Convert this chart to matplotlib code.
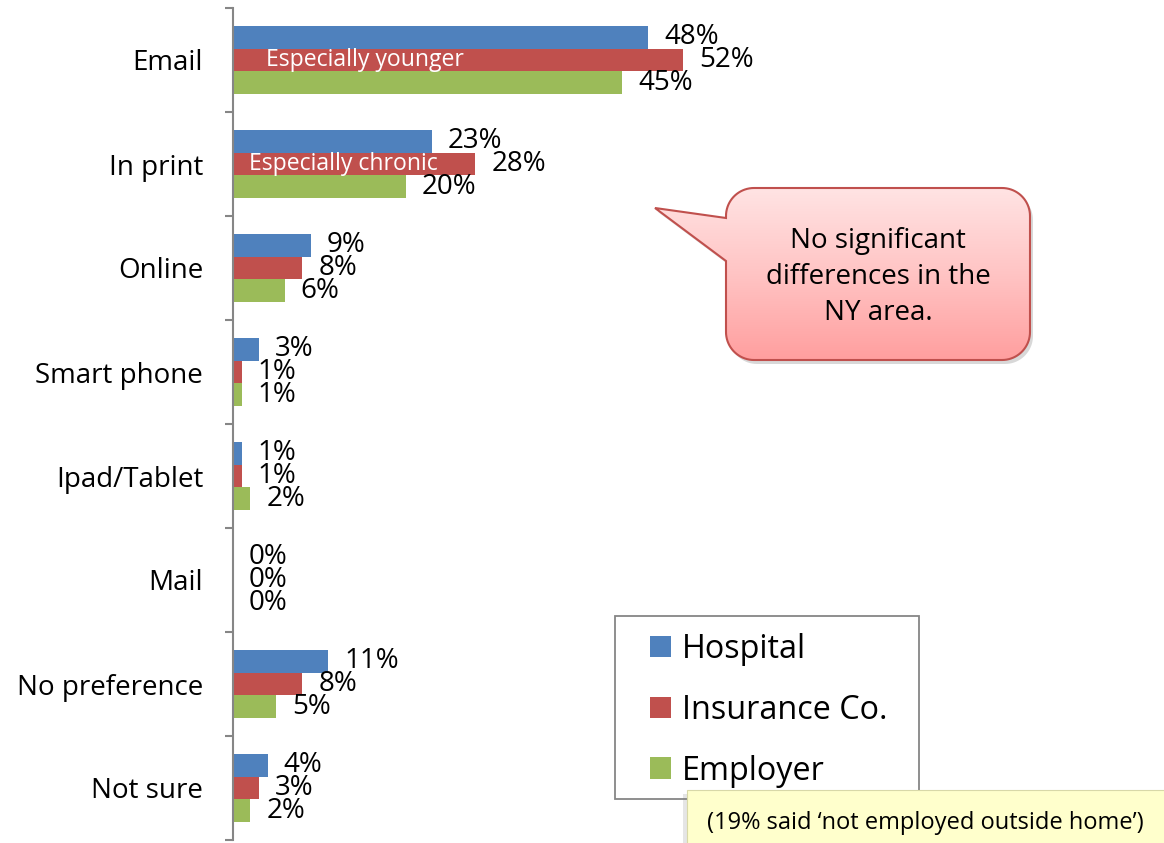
import numpy as np
import matplotlib.pyplot as plt
from matplotlib.patches import Rectangle, PathPatch
from matplotlib.path import Path
from matplotlib.colors import LinearSegmentedColormap

plt.rcParams['font.family'] = ['Open Sans', 'DejaVu Sans']

# данные
categories = ['Email', 'In print', 'Online', 'Smart phone', 'Ipad/Tablet',
              'Mail', 'No preference', 'Not sure']
hospital = [48, 23, 9, 3, 1, 0, 11, 4]
insurance = [52, 28, 8, 1, 1, 0, 8, 3]
employer = [45, 20, 6, 1, 2, 0, 5, 2]
series_names = ['Hospital', 'Insurance Co.', 'Employer']
colors = ['#4F81BD', '#C0504D', '#9BBB59']
notes = {0: 'Especially younger', 1: 'Especially chronic'}
note_offsets = {0: 24, 1: 11.5}

W, H = 1164, 843
fig = plt.figure(figsize=(W / 100, H / 100), dpi=100)
ax = fig.add_axes([233 / W, 3 / H, (W - 233) / W, 832 / H])

y = np.arange(len(categories))
bh = 0.221
bars_all = []
for k, (vals, c) in enumerate(zip([hospital, insurance, employer], colors)):
    bars = ax.barh(y + (k - 1) * bh, vals, height=bh, color=c, label=series_names[k])
    ax.bar_label(bars, labels=[f'{v}%' for v in vals], padding=11.5, fontsize=20)
    bars_all.append(bars)

# подписи внутри красных столбцов
for i, txt in notes.items():
    ax.annotate(txt, xy=(0, y[i]), xytext=(note_offsets[i], 0), textcoords='offset points',
                color='white', fontsize=16.6, va='center', ha='left')

ax.set_xlim(0, (W - 233) / 8.65)
ax.set_ylim(len(categories) - 0.5, -0.5)
ax.set_xticks([])
ax.set_yticks(np.arange(len(categories) + 1) - 0.5)
ax.set_yticklabels([])
ax.set_yticks(y, minor=True)
ax.set_yticklabels(categories, minor=True, fontsize=20)
ax.tick_params(axis='y', which='major', length=6, width=1.5, color='#868686', direction='out')
ax.tick_params(axis='y', which='minor', length=0, pad=21.5)
for s in ['top', 'right', 'bottom']:
    ax.spines[s].set_visible(False)
ax.spines['left'].set_color('#868686')
ax.spines['left'].set_linewidth(1.5)

# верхний слой в пикселях
ov = fig.add_axes([0, 0, 1, 1], zorder=3)
ov.axis('off')

# выноска
x0, x1, y0, y1, r = 726, 1030, 188, 360, 28
def arc(cx, cy, t0, t1):
    t = np.linspace(t0, t1, 20)
    return list(zip(cx + r * np.cos(t), cy + r * np.sin(t)))
pts = []
pts += arc(x0 + r, y0 + r, np.pi, 1.5 * np.pi)
pts += arc(x1 - r, y0 + r, 1.5 * np.pi, 2 * np.pi)
pts += arc(x1 - r, y1 - r, 0, 0.5 * np.pi)
pts += arc(x0 + r, y1 - r, 0.5 * np.pi, np.pi)
pts += [(x0, 261), (655, 208), (x0, 218), pts[0]]
pts = np.array(pts)

shadow = PathPatch(Path(pts + [3, 4]), fc='gray', ec='none', alpha=0.3)
ov.add_patch(shadow)
bubble = PathPatch(Path(pts), fc='none', ec='#C0504D', lw=1.5, zorder=4)
ov.add_patch(bubble)
cmap = LinearSegmentedColormap.from_list('pink', ['#FFE4E4', '#FFC4C4', '#FF9E9E'])
img = ov.imshow(np.linspace(0, 1, 100).reshape(-1, 1), cmap=cmap, aspect='auto',
                extent=(650, 1032, 362, 186), origin='upper', zorder=3)
img.set_clip_path(bubble)
ov.text(878, 277, 'No significant\ndifferences in the\nNY area.', ha='center', va='center',
        fontsize=20, linespacing=1.4, zorder=5)

# легенда
ov.add_patch(Rectangle((615, 616), 304, 183, fc='white', ec='#868686', lw=1.3, zorder=1))
fig.legend(handles=bars_all, labels=series_names, loc='upper left',
           bbox_to_anchor=(650 / W, 1 - 633 / H), frameon=False, fontsize=23.3,
           handlelength=0.65, handleheight=0.65, handletextpad=0.35,
           labelspacing=0.86, borderpad=0, borderaxespad=0)

# сноска
ov.add_patch(Rectangle((683, 794), 490, 60, fc='gray', ec='none', alpha=0.2, zorder=6))
ov.add_patch(Rectangle((687, 790), 490, 60, fc='#FFFFCC', ec='#D8D8A8', lw=0.8, zorder=7))
ov.text(925, 823, '(19% said \u2018not employed outside home\u2019)', ha='center', va='center',
        fontsize=17, zorder=8)

ov.set_xlim(0, W)
ov.set_ylim(H, 0)

plt.savefig('out.png', dpi=100)
